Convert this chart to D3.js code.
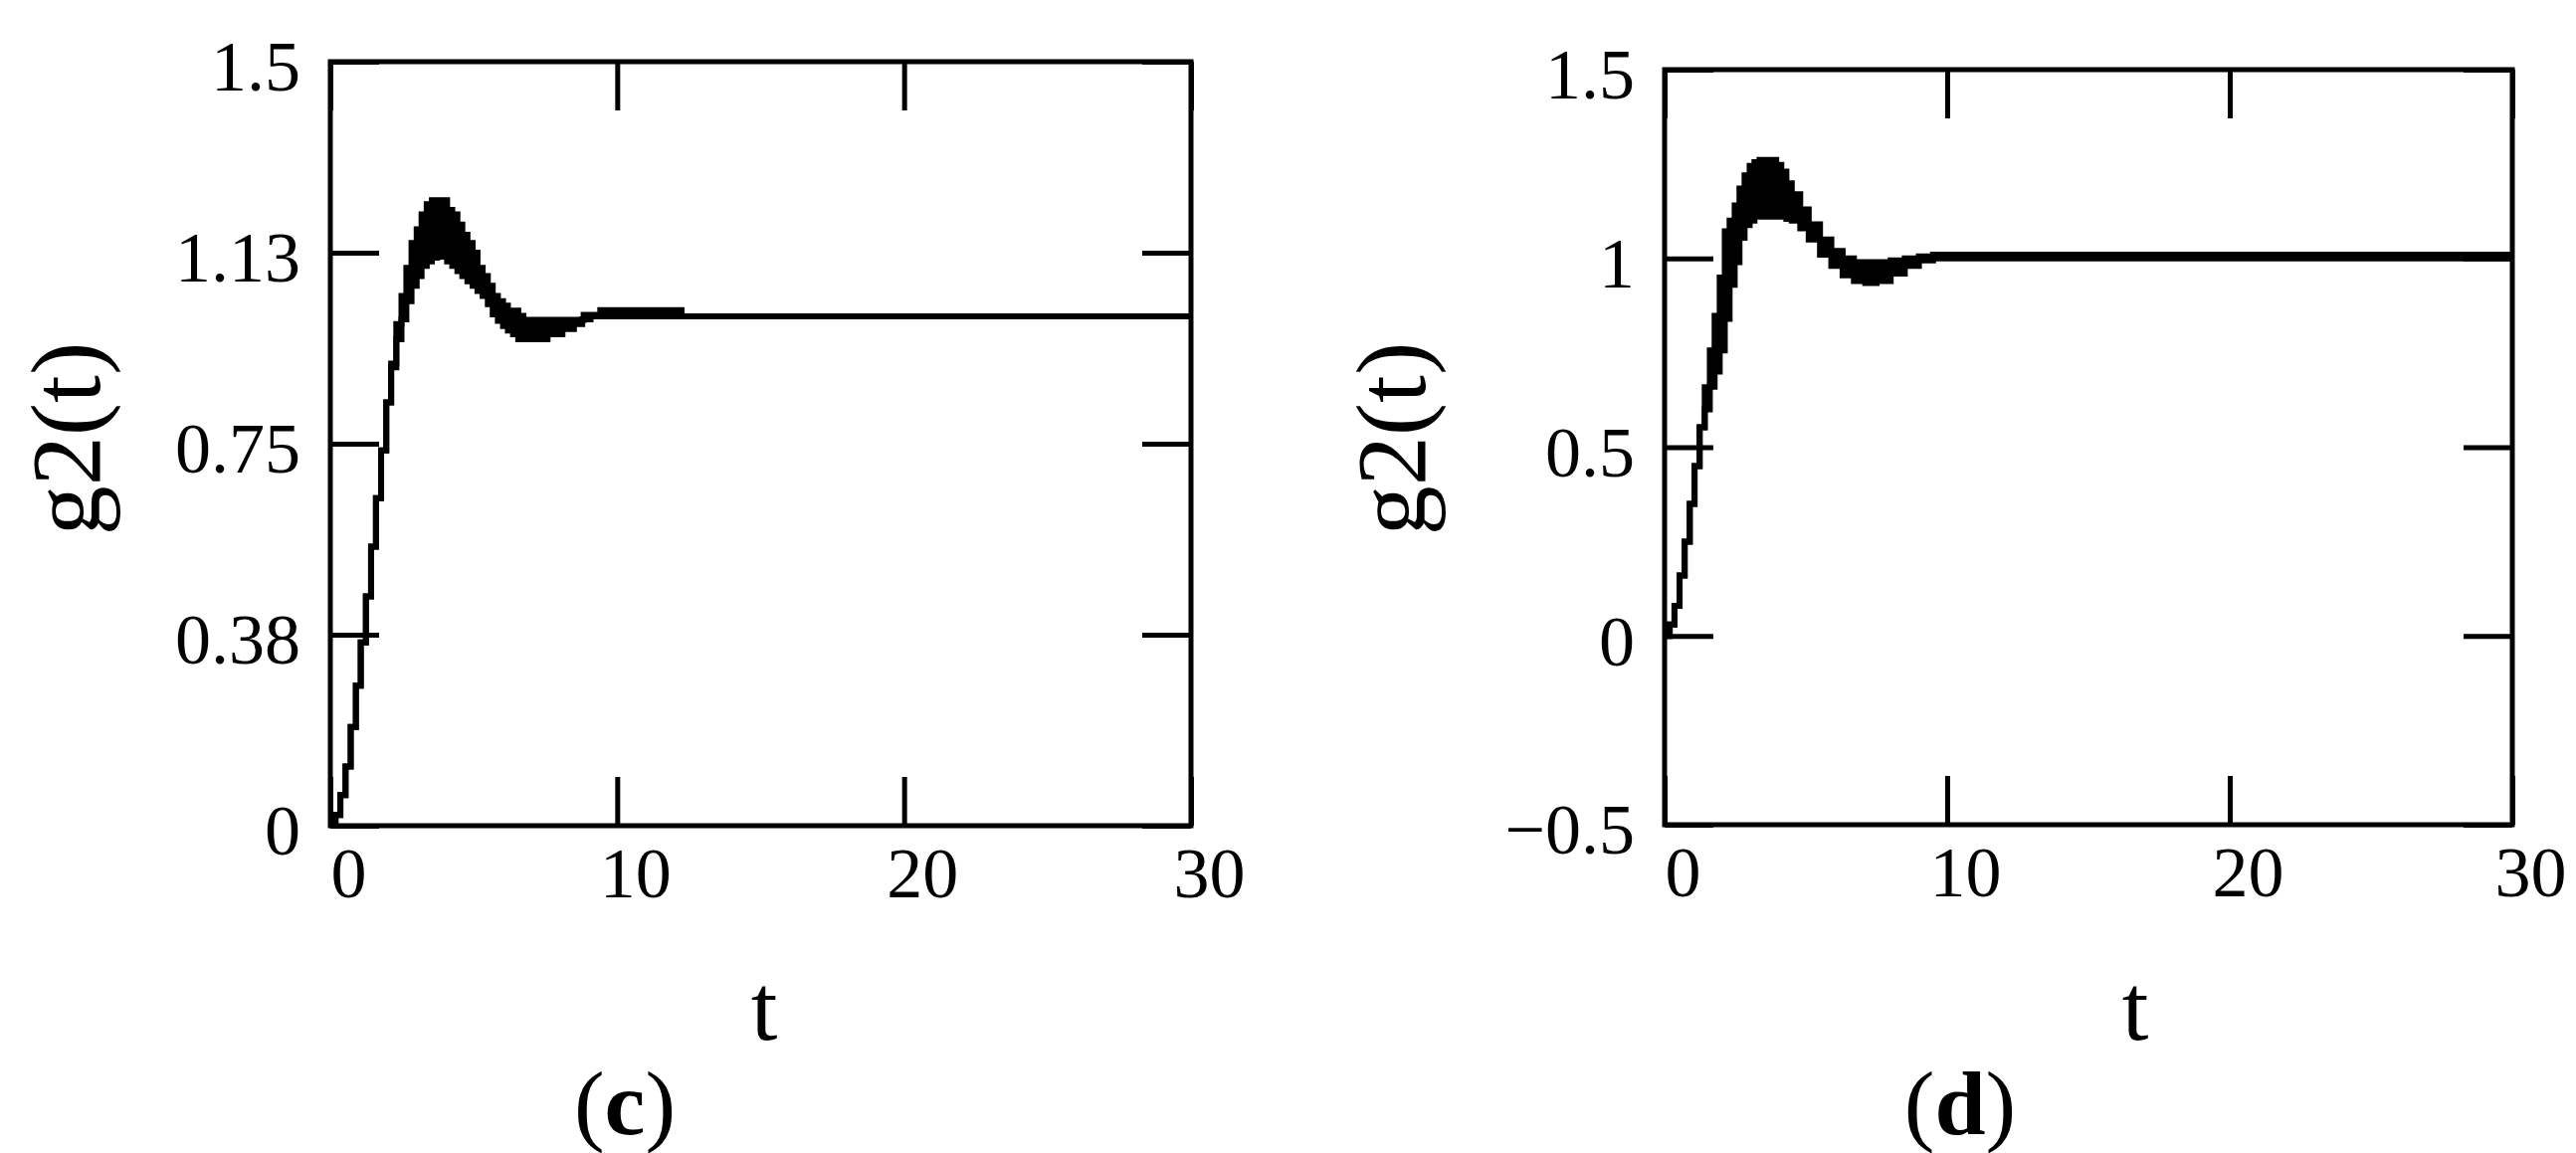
<!DOCTYPE html>
<html>
<head>
<meta charset="utf-8">
<script src="https://cdn.jsdelivr.net/npm/d3@7"></script>
<style>
	body { margin: 0; background: #fff; }
	svg { display: block; background: #fff; }
	text { font-family: "Liberation Serif", "Times New Roman", serif; fill: #000; }
</style>
</head>
<body>
<svg id="fig" width="2589" height="1159"></svg>
<script>
// Panel (c): time, upper and lower edge of the ripple band
var tC  = [0, 0.18, 0.35, 0.53, 0.71, 0.89, 1.06, 1.24, 1.42, 1.59, 1.77, 1.95, 2.12, 2.30, 2.48, 2.65, 2.83, 3.01, 3.18, 3.36, 3.54, 3.72, 4.07, 4.25, 4.43, 4.60, 4.78, 4.96, 5.13, 5.31, 5.49, 5.66, 5.84, 6.02, 6.19, 6.37, 6.55, 6.73, 7.57, 8.09, 8.49, 8.78, 8.83, 9.07, 9.41, 12.24, 30];
var hiC = [0, 0.021, 0.060, 0.116, 0.194, 0.275, 0.360, 0.450, 0.548, 0.643, 0.737, 0.831, 0.907, 0.985, 1.040, 1.095, 1.144, 1.171, 1.200, 1.220, 1.228, 1.228, 1.209, 1.200, 1.180, 1.160, 1.144, 1.125, 1.095, 1.079, 1.060, 1.040, 1.030, 1.021, 1.011, 1.011, 1.001, 0.993, 0.993, 0.993, 0.993, 0.993, 1.003, 1.003, 1.012, 1.000, 1.000];
var loC = [0, 0.021, 0.060, 0.116, 0.194, 0.275, 0.360, 0.450, 0.548, 0.643, 0.737, 0.831, 0.900, 0.955, 0.994, 1.030, 1.060, 1.079, 1.099, 1.108, 1.115, 1.117, 1.108, 1.099, 1.089, 1.079, 1.069, 1.060, 1.050, 1.040, 1.024, 1.004, 0.991, 0.981, 0.972, 0.965, 0.955, 0.955, 0.965, 0.975, 0.985, 0.994, 0.994, 1.000, 1.000, 1.000, 1.000];

// Panel (d)
var tD  = [0, 0.18, 0.35, 0.53, 0.71, 0.89, 1.06, 1.24, 1.42, 1.60, 1.77, 1.95, 2.13, 2.30, 2.48, 2.65, 2.83, 3.01, 3.18, 3.36, 3.95, 4.13, 4.31, 4.5, 4.8, 5.1, 5.5, 5.9, 6.3, 6.7, 7.1, 7.5, 8.0, 8.5, 9.0, 9.5, 30];
var hiD = [0, 0.03, 0.08, 0.16, 0.25, 0.35, 0.45, 0.553, 0.659, 0.756, 0.848, 0.949, 1.072, 1.100, 1.140, 1.185, 1.220, 1.245, 1.255, 1.261, 1.248, 1.230, 1.199, 1.17, 1.13, 1.09, 1.05, 1.02, 1.00, 0.99, 0.99, 0.99, 0.995, 1.00, 1.005, 1.01, 1.01];
var loD = [0, 0.03, 0.08, 0.16, 0.25, 0.35, 0.45, 0.553, 0.600, 0.660, 0.700, 0.756, 0.840, 0.930, 0.990, 1.055, 1.088, 1.100, 1.111, 1.111, 1.111, 1.111, 1.105, 1.10, 1.08, 1.05, 1.01, 0.98, 0.955, 0.94, 0.935, 0.94, 0.96, 0.98, 0.995, 1.00, 1.00];

var xTickVals = [0, 10, 20, 30];
var yTickC = [0, 0.375, 0.75, 1.125, 1.5];
var yLabC  = ["0", "0.38", "0.75", "1.13", "1.5"];
var yTickD = [-0.5, 0, 0.5, 1, 1.5];
var yLabD  = ["\u22120.5", "0", "0.5", "1", "1.5"];

var svg = d3.select("#fig");
var tickLen = 49, lineW = 5, curveW = 6;

function drawPanel(p) {

	var x = d3.scaleLinear()
		.domain([0, 30])
		.range([p.left, p.right]);

	var y = d3.scaleLinear()
		.domain([p.yTicks[0], p.yTicks[p.yTicks.length - 1]])
		.range([p.bottom, p.top]);

	var g = svg.append("g");

	// ticks on all four sides, pointing inward
	var axLeft = g.append("g")
		.attr("transform", "translate(" + p.left + ",0)")
		.call(d3.axisLeft(y).tickValues(p.yTicks).tickSize(-tickLen).tickSizeOuter(0)
			.tickPadding(30).tickFormat(function(d, i) { return p.yLabels[i]; }));
	axLeft.selectAll("text").attr("font-size", 72).attr("dy", "0.4em");

	g.append("g")
		.attr("transform", "translate(" + p.right + ",0)")
		.call(d3.axisRight(y).tickValues(p.yTicks).tickSize(-tickLen).tickSizeOuter(0).tickFormat(""));

	var axBottom = g.append("g")
		.attr("transform", "translate(0," + p.bottom + ")")
		.call(d3.axisBottom(x).tickValues(xTickVals).tickSize(-tickLen).tickSizeOuter(0)
			.tickFormat(d3.format("d")));
	axBottom.selectAll("text")
		.attr("font-size", 72)
		.attr("y", 72).attr("dy", 0).attr("dx", 18);

	g.append("g")
		.attr("transform", "translate(0," + p.top + ")")
		.call(d3.axisTop(x).tickValues(xTickVals).tickSize(-tickLen).tickSizeOuter(0).tickFormat(""));

	g.selectAll(".domain").remove();
	g.selectAll(".tick line")
		.attr("stroke", "#000")
		.attr("stroke-width", lineW);

	// plot frame
	g.append("rect")
		.attr("x", p.left)
		.attr("y", p.top)
		.attr("width", p.right - p.left)
		.attr("height", p.bottom - p.top)
		.attr("fill", "none")
		.attr("stroke", "#000")
		.attr("stroke-width", lineW);

	var idx = d3.range(p.t.length);

	// ripple band
	var band = d3.area()
		.x(function(i) { return x(p.t[i]); })
		.y0(function(i) { return y(p.lo[i]); })
		.y1(function(i) { return y(p.hi[i]); })
		.curve(d3.curveStepAfter);

	g.append("path")
		.datum(idx)
		.attr("fill", "#000")
		.attr("d", band);

	[p.hi, p.lo].forEach(function(s) {
		var line = d3.line()
			.x(function(i) { return x(p.t[i]); })
			.y(function(i) { return y(s[i]); })
			.curve(d3.curveStepAfter);
		g.append("path")
			.datum(idx)
			.attr("fill", "none")
			.attr("stroke", "#000")
			.attr("stroke-width", curveW)
			.attr("d", line);
	});

	// axis titles
	g.append("text")
		.attr("x", p.tX)
		.attr("y", 1045)
		.attr("text-anchor", "middle")
		.attr("font-size", 96)
		.text("t");

	g.append("text")
		.attr("transform", "translate(" + p.gX + ",441) rotate(-90)")
		.attr("text-anchor", "middle")
		.attr("font-size", 100)
		.text("g2(t)");

	// caption
	var cap = g.append("text")
		.attr("x", p.capX)
		.attr("y", 1140)
		.attr("text-anchor", "middle")
		.attr("font-size", 92);
	cap.append("tspan").text("(");
	cap.append("tspan").attr("font-weight", "bold").text(p.cap);
	cap.append("tspan").text(")");
}

drawPanel({left: 332, right: 1197, top: 62, bottom: 830,
	yTicks: yTickC, yLabels: yLabC, t: tC, hi: hiC, lo: loC,
	tX: 768, gX: 100, capX: 628, cap: "c"});

drawPanel({left: 1673, right: 2525, top: 70, bottom: 829,
	yTicks: yTickD, yLabels: yLabD, t: tD, hi: hiD, lo: loD,
	tX: 2146, gX: 1432, capX: 1970, cap: "d"});
</script>
</body>
</html>
